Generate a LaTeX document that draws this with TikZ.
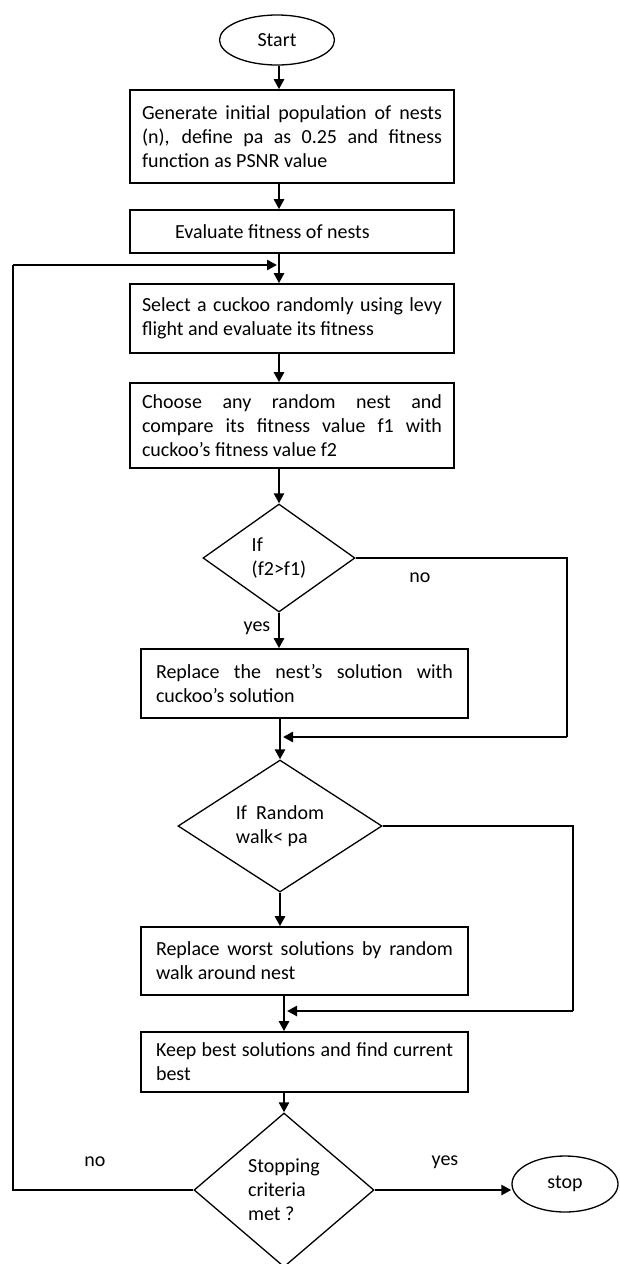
\documentclass[tikz,border=0pt]{standalone}
\usepackage{fontspec}
\setmainfont{Carlito}
\usetikzlibrary{arrows.meta,shapes.geometric}

\begin{document}
\begin{tikzpicture}[
  x=1pt,y=-1pt,
  every node/.style={font=\fontsize{20}{24}\selectfont},
  arrow/.style={-{Triangle[length=10pt,width=10pt]},line width=2.6pt},
  link/.style={line width=1.6pt},
  box/.style={rectangle,draw,line width=1.6pt,text width=300pt,
              inner xsep=12pt,inner ysep=0pt,align=justify,
              execute at begin node={\hyphenpenalty=10000\exhyphenpenalty=10000}},
  wbox/.style={box,text width=297pt,inner xsep=15pt},
  decision/.style={diamond,draw,line width=1.3pt,inner sep=0pt,align=left},
  terminal/.style={ellipse,draw,line width=1.3pt,inner sep=0pt}
]
\useasboundingbox (0,0) rectangle (619,1264);

% main column
\node[terminal,minimum width=115pt,minimum height=50pt] (start) at (277,40) {Start};
\node[box,minimum height=93pt] (init) at (292,136.5)
  {Generate initial population of nests\linebreak (n), define pa as 0.25 and fitness\linebreak function as PSNR value};
\node[box,minimum height=43pt] (eval) at (292,231.5)
  {\hspace*{33pt}Evaluate fitness of nests};
\node[box,minimum height=69pt] (cuckoo) at (292,318.5)
  {Select a cuckoo randomly using levy\linebreak flight and evaluate its fitness};
\node[box,minimum height=85pt] (choose) at (292,425.5)
  {Choose any random nest and\linebreak compare its fitness value f1 with\linebreak cuckoo's fitness value f2};
\node[decision,minimum width=152pt,minimum height=108pt] (cmp) at (279,558)
  {If\\(f2>f1)};
\node[wbox,minimum height=69pt] (replace) at (304.5,683.5)
  {Replace the nest's solution with\linebreak cuckoo's solution};
\node[decision,minimum width=204pt,minimum height=132pt] (walk) at (280,826)
  {If\ \ Random\\walk< pa};
\node[wbox,minimum height=68pt] (worst) at (304.5,961)
  {Replace worst solutions by random\linebreak walk around nest};
\node[wbox,minimum height=60pt] (keep) at (304.5,1062)
  {Keep best solutions and find current\linebreak best};
\node[decision,minimum width=180pt,minimum height=154pt] (stopq) at (284,1190)
  {Stopping\\criteria\\met ?};
\node[terminal,minimum width=106pt,minimum height=56pt] (stop) at (565,1184) {stop};

% labels
\node (no1) at (420,578) {no};
\node (yes1) at (257,628) {yes};
\node (no2) at (95,1162) {no};
\node (yes2) at (445,1162) {yes};

% junctions
\coordinate (j0) at (277,265);
\coordinate (c0) at (13,265);
\coordinate (j1) at (283,737);
\coordinate (c1) at (567,737);
\coordinate (j2) at (287,1011);
\coordinate (c2) at (573,1011);

\draw[arrow] (start.south -| 279,0) -- (init.north -| 279,0);
\draw[arrow] (init.south -| 279,0) -- (eval.north -| 279,0);
\draw[arrow] (eval.south -| 279,0) -- (cuckoo.north -| 279,0);
\draw[arrow] (cuckoo.south -| 279,0) -- (choose.north -| 279,0);
\draw[arrow] (choose.south -| cmp) -- (cmp.north);
\draw[arrow] (cmp.south) -- (replace.north -| cmp);
\draw[arrow] (replace.south -| walk) -- (walk.north);
\draw[arrow] (walk.south) -- (worst.north -| walk);
\draw[arrow] (worst.south -| stopq) -- (keep.north -| stopq);
\draw[arrow] (keep.south -| stopq) -- (stopq.north);
\draw[arrow] (stopq.east) -- (stopq.east -| stop.west);

% side branches
\draw[link] (cmp.east) -| (c1);
\draw[arrow] (c1) -- (j1);
\draw[link] (walk.east) -| (c2);
\draw[arrow] (c2) -- (j2);
\draw[link] (stopq.west) -| (c0);
\draw[arrow] (c0) -- (j0);

\end{tikzpicture}
\end{document}
